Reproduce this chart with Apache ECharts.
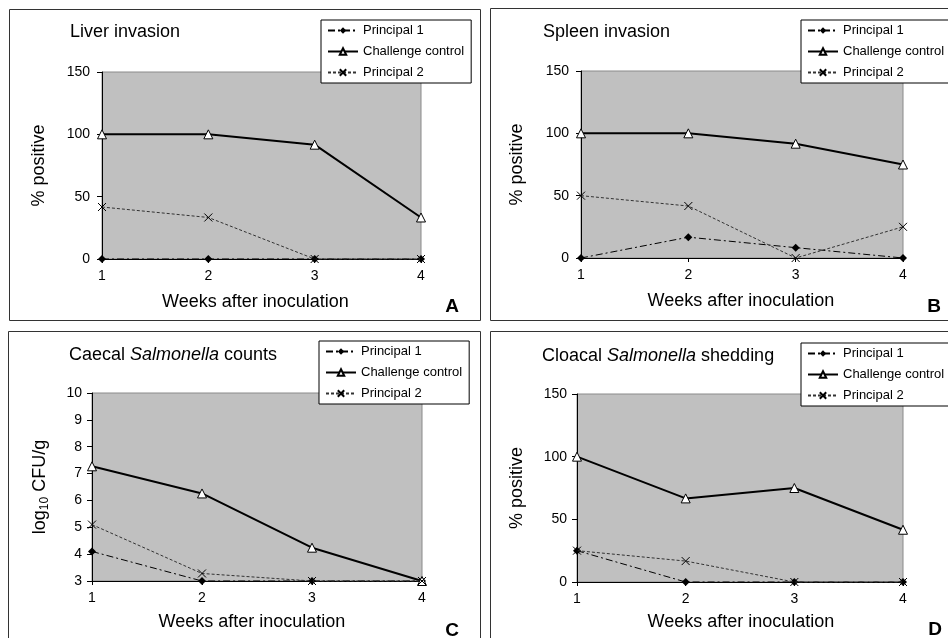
<!DOCTYPE html>
<html>
<head>
<meta charset="utf-8">
<script src="https://cdn.jsdelivr.net/npm/echarts@6/dist/echarts.min.js"></script>
<style>
html,body{margin:0;padding:0;background:#fff;}
#chart{width:948px;height:638px;}
</style>
</head>
<body>
<div id="chart"></div>
<script>
// ---- data ----
const weeks = [1, 2, 3, 4];
const seriesNames = ['Principal 1', 'Challenge control', 'Principal 2'];

const liverP1 = [0, 0, 0, 0];
const liverCC = [100, 100, 91.7, 33.3];
const liverP2 = [41.7, 33.3, 0, 0];

const spleenP1 = [0, 16.7, 8.3, 0];
const spleenCC = [100, 100, 91.7, 75];
const spleenP2 = [50, 41.7, 0, 25];

const caecalP1 = [4.1, 3, 3, 3];
const caecalCC = [7.27, 6.26, 4.24, 3];
const caecalP2 = [5.1, 3.28, 3, 3];

const cloacalP1 = [25, 0, 0, 0];
const cloacalCC = [100, 66.7, 75, 41.7];
const cloacalP2 = [25, 16.7, 0, 0];

const panelTitles = ['Liver invasion', 'Spleen invasion',
  '{n|Caecal }{i|Salmonella}{n| counts}', '{n|Cloacal }{i|Salmonella}{n| shedding}'];
const panelLetters = ['A', 'B', 'C', 'D'];
const xAxisName = 'Weeks after inoculation';
const yAxisNames = ['% positive', '% positive', '{a|log}{b|10}{a| CFU/g}', '% positive'];
const yRanges = [[0, 150, 50], [0, 150, 50], [3, 10, 1], [0, 150, 50]];

// ---- layout ----
const FONT = 'Liberation Sans, Arial, Helvetica, sans-serif';
const grids = [
  {left: 102, top: 72, width: 319, height: 187},
  {left: 581, top: 71, width: 322, height: 187},
  {left: 92, top: 393, width: 330, height: 188},
  {left: 577, top: 394, width: 326, height: 188}
];
const yNameGaps = [54, 55, 41, 51];
const xNameGaps = [34, 34, 32, 31];
const xNamePad = [[0, 12, 0, 0], [0, 2, 0, 0], [0, 10, 0, 0], [0, 0, 0, 2]];
const yLabelMargins = [12, 12, 10, 10];
const titlePos = [[70, 23], [543, 23], [69, 346], [542, 347]];
const legendPos = [[321, 20], [801, 20], [319, 341], [801, 343]];
const letterPos = [[452, 307], [934, 307], [452, 631], [935, 630]];
const panelRects = [
  [9.5, 9.5, 471, 311],
  [490.5, 8.5, 520, 312],
  [8.5, 331.5, 472, 400],
  [490.5, 331.5, 520, 400]
];

const panelData = [
  [liverP1, liverCC, liverP2],
  [spleenP1, spleenCC, spleenP2],
  [caecalP1, caecalCC, caecalP2],
  [cloacalP1, cloacalCC, cloacalP2]
];

const styles = [
  {
    symbol: 'diamond', symbolSize: 8,
    lineStyle: {color: '#000', width: 1, type: [7, 3, 2, 3]},
    itemStyle: {color: '#000', borderColor: '#000', borderWidth: 0}
  },
  {
    symbol: 'triangle', symbolSize: 9,
    lineStyle: {color: '#000', width: 2, type: 'solid'},
    itemStyle: {color: '#fff', borderColor: '#000', borderWidth: 1}
  },
  {
    symbol: 'path://M0,0L10,10M10,0L0,10', symbolSize: 8,
    lineStyle: {color: '#333', width: 1, type: [3, 2]},
    itemStyle: {color: '#000', borderColor: '#000', borderWidth: 1}
  }
];

const option = {
  animation: false,
  backgroundColor: '#fff',
  textStyle: {fontFamily: FONT, color: '#000'},
  title: [], legend: [], grid: [], xAxis: [], yAxis: [], series: [],
  graphic: []
};

for (let p = 0; p < 4; p++) {
  const g = grids[p];
  option.grid.push({
    left: g.left, top: g.top, width: g.width, height: g.height,
    show: true, backgroundColor: '#c0c0c0', borderColor: '#8a8a8a', borderWidth: 1,
    containLabel: false, outerBoundsMode: 'none'
  });
  option.xAxis.push({
    type: 'value', gridIndex: p, min: 1, max: 4, interval: 1,
    name: xAxisName, nameLocation: 'middle', nameGap: xNameGaps[p],
    nameTextStyle: {fontSize: 18, fontFamily: FONT, color: '#000', padding: xNamePad[p]},
    axisLine: {show: true, onZero: false, lineStyle: {color: '#000', width: 1}},
    axisTick: {show: true, length: 4, lineStyle: {color: '#000'}},
    axisLabel: {fontSize: 14, fontFamily: FONT, color: '#000', margin: 10},
    splitLine: {show: false}
  });
  const yr = yRanges[p];
  option.yAxis.push({
    type: 'value', gridIndex: p, min: yr[0], max: yr[1], interval: yr[2],
    name: yAxisNames[p], nameLocation: 'middle', nameGap: yNameGaps[p],
    nameTextStyle: {
      fontSize: 18, fontFamily: FONT, color: '#000',
      rich: {
        a: {fontSize: 18, fontFamily: FONT, color: '#000', lineHeight: 22},
        b: {fontSize: 12, fontFamily: FONT, color: '#000', lineHeight: 10, verticalAlign: 'bottom'}
      }
    },
    axisLine: {show: true, onZero: false, lineStyle: {color: '#000', width: 1}},
    axisTick: {show: true, length: 5, lineStyle: {color: '#000'}},
    axisLabel: {fontSize: 14, fontFamily: FONT, color: '#000', margin: yLabelMargins[p]},
    splitLine: {show: false}
  });
  option.title.push({
    text: panelTitles[p], left: titlePos[p][0], top: titlePos[p][1], padding: 0,
    textStyle: {
      fontSize: 18, fontWeight: 'normal', fontFamily: FONT, color: '#000',
      rich: {
        n: {fontSize: 18, fontFamily: FONT, color: '#000'},
        i: {fontSize: 18, fontFamily: FONT, color: '#000', fontStyle: 'italic'}
      }
    }
  });
  option.legend.push({
    data: seriesNames, orient: 'vertical', left: legendPos[p][0], top: legendPos[p][1],
    padding: [4, 7, 4, 6], itemGap: 8, itemWidth: 30, itemHeight: 8,
    backgroundColor: '#fff', borderColor: '#000', borderWidth: 1, borderRadius: 0,
    selectedMode: false, z: 10,
    textStyle: {fontSize: 13, fontFamily: FONT, color: '#000', padding: [0, 0, 0, 0]}
  });
  for (let s = 0; s < 3; s++) {
    const vals = panelData[p][s];
    option.series.push(Object.assign({
      type: 'line', name: seriesNames[s], xAxisIndex: p, yAxisIndex: p,
      data: weeks.map((w, i) => [w, vals[i]]),
      clip: false, silent: true, z: 3 + s
    }, JSON.parse(JSON.stringify(styles[s]))));
  }
  const r = panelRects[p];
  option.graphic.push({
    type: 'rect', shape: {x: r[0], y: r[1], width: r[2], height: r[3]},
    style: {fill: 'none', stroke: '#333', lineWidth: 1}, silent: true, z: 0
  });
  option.graphic.push({
    type: 'text', x: letterPos[p][0], y: letterPos[p][1],
    style: {text: panelLetters[p], font: 'bold 19px ' + FONT, fill: '#000',
      textAlign: 'center', textVerticalAlign: 'middle'}, silent: true, z: 20
  });
}

const chart = echarts.init(document.getElementById('chart'), null, {renderer: 'canvas'});
chart.setOption(option);
</script>
</body>
</html>
